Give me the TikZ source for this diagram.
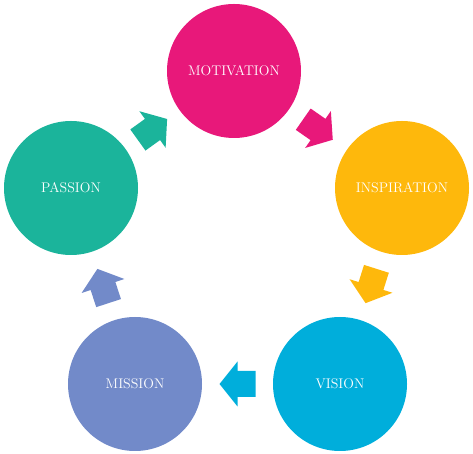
\documentclass[tikz,border=0pt]{standalone}
\usetikzlibrary{calc}
\definecolor{cmot}{RGB}{232,24,122}
\definecolor{cins}{RGB}{254,184,12}
\definecolor{cvis}{RGB}{0,174,219}
\definecolor{cmis}{RGB}{114,138,201}
\definecolor{cpas}{RGB}{27,180,155}
\tikzset{
  stage/.style={circle,draw=none,fill=#1,minimum size=134pt,inner sep=0pt,
    text=white,font=\fontsize{14}{16}\selectfont}
}
\begin{document}
\begin{tikzpicture}[line cap=round,line join=round,x=1pt,y=1pt]
\useasboundingbox (0,0) rectangle (473,454);
\node[stage=cmot] (mot) at (234,383) {MOTIVATION};
\node[stage=cins] (ins) at (402,266) {INSPIRATION};
\node[stage=cvis] (vis) at (340,70) {VISION};
\node[stage=cmis] (mis) at (135,70) {MISSION};
\node[stage=cpas] (pas) at (71,266) {PASSION};

%block arrows half way between the circles
\foreach \a/\b/\c in
{   mot/ins/cmot, ins/vis/cins, vis/mis/cvis, mis/pas/cmis, pas/mot/cpas}
{
    \fill[\c] let \p1=(\a), \p2=(\b), \n1={atan2(\y2-\y1,\x2-\x1)} in
      [shift={($(\a)!0.5!(\b)$)},rotate=\n1]
      (18,0) -- (0,22.5) -- (0,13) -- (-18,13) -- (-18,-13) -- (0,-13) -- (0,-22.5) -- cycle;
};
\end{tikzpicture}
\end{document}
